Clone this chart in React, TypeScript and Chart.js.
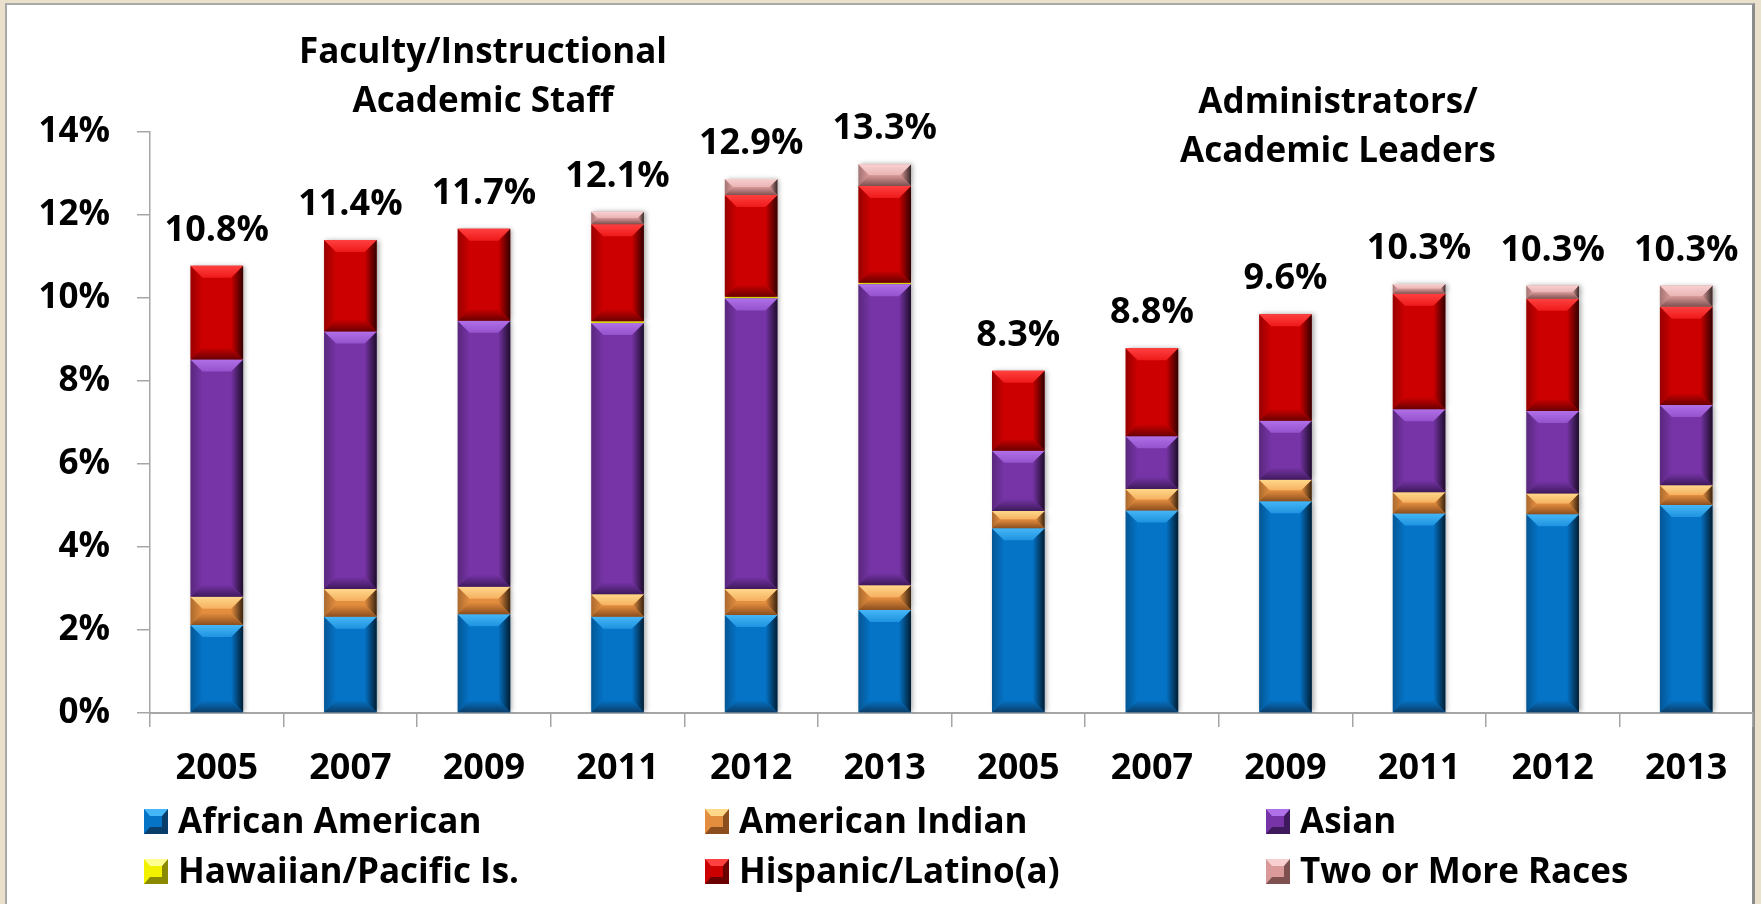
import React, { useEffect, useRef } from "react";
import { Chart, registerables } from "chart.js";

Chart.register(...registerables);

// ---------- data ----------
const categories = ["2005", "2007", "2009", "2011", "2012", "2013", "2005", "2007", "2009", "2011", "2012", "2013"];
const africanAmerican = [2.12, 2.32, 2.38, 2.32, 2.36, 2.48, 4.45, 4.88, 5.1, 4.81, 4.79, 5.01];
const americanIndian = [0.68, 0.67, 0.66, 0.54, 0.63, 0.6, 0.42, 0.52, 0.52, 0.51, 0.5, 0.48];
const asian = [5.72, 6.2, 6.41, 6.54, 7.0, 7.25, 1.45, 1.27, 1.42, 2.0, 1.99, 1.93];
const hawaiian = [0, 0, 0, 0.04, 0.04, 0.04, 0, 0, 0, 0, 0, 0];
const hispanic = [2.26, 2.21, 2.22, 2.34, 2.45, 2.33, 1.93, 2.12, 2.57, 2.78, 2.7, 2.37];
const twoOrMore = [0, 0, 0, 0.3, 0.39, 0.52, 0, 0, 0, 0.24, 0.32, 0.51];
const totalLabels = ["10.8%", "11.4%", "11.7%", "12.1%", "12.9%", "13.3%", "8.3%", "8.8%", "9.6%", "10.3%", "10.3%", "10.3%"];
const seriesNames = ["African American", "American Indian", "Asian", "Hawaiian/Pacific Is.", "Hispanic/Latino(a)", "Two or More Races"];
const yTickLabels = ["0%", "2%", "4%", "6%", "8%", "10%", "12%", "14%"];
const groupTitles = [["Faculty/Instructional", "Academic Staff"], ["Administrators/", "Academic Leaders"]];

// ---------- styles ----------
const styles = [
  { face: "#0573C6", light: "#45B6F6", mid: "#1E93E0", dark: "#0A3E6A" },
  { face: "#E38D3E", light: "#FFD88A", mid: "#F5B060", dark: "#8C4E1E" },
  { face: "#7634A6", light: "#B070E8", mid: "#9552CC", dark: "#3E1A5C" },
  { face: "#F2F200", light: "#FFFF90", mid: "#FFFF40", dark: "#8A8A00" },
  { face: "#CC0000", light: "#FF4040", mid: "#EE1A1A", dark: "#6A0000" },
  { face: "#D99A99", light: "#F8D0D0", mid: "#EAB4B4", dark: "#7E5050" },
];
const FONT = "'Open Sans', 'DejaVu Sans', sans-serif";

const seriesValues = [africanAmerican, americanIndian, asian, hawaiian, hispanic, twoOrMore];

const bevelPlugin = {
  id: "bevel",
  beforeDatasetsDraw(chart: any) {
    const ctx = chart.ctx;
    ctx.save();
    ctx.shadowColor = "rgba(0,0,0,0.35)";
    ctx.shadowBlur = 5;
    ctx.shadowOffsetX = 2;
    ctx.shadowOffsetY = 0;
  },
  afterDatasetsDraw(chart: any) {
    const ctx = chart.ctx;
    ctx.restore();
    chart.data.datasets.forEach((_ds: any, di: number) => {
      const meta = chart.getDatasetMeta(di);
      const st = styles[di];
      meta.data.forEach((el: any) => {
        const { x, y, base, width } = el.getProps(["x", "y", "base", "width"], true);
        const x0 = x - width / 2;
        const x1 = x + width / 2;
        const yT = Math.min(y, base);
        const yB = Math.max(y, base);
        const h = yB - yT;
        if (h < 3) return;
        const b = Math.min(12, h / 2, width / 2);
        ctx.save();
        // left side
        ctx.beginPath();
        ctx.moveTo(x0, yT);
        ctx.lineTo(x0 + b, yT + b);
        ctx.lineTo(x0 + b, yB - b);
        ctx.lineTo(x0, yB);
        ctx.closePath();
        let g = ctx.createLinearGradient(x0, 0, x0 + b, 0);
        g.addColorStop(0, "rgba(0,0,0,0.25)");
        g.addColorStop(1, "rgba(0,0,0,0)");
        ctx.fillStyle = g;
        ctx.fill();
        // right side
        ctx.beginPath();
        ctx.moveTo(x1, yT);
        ctx.lineTo(x1 - b, yT + b);
        ctx.lineTo(x1 - b, yB - b);
        ctx.lineTo(x1, yB);
        ctx.closePath();
        g = ctx.createLinearGradient(x1 - b, 0, x1, 0);
        g.addColorStop(0, "rgba(0,0,0,0)");
        g.addColorStop(1, "rgba(0,0,0,0.75)");
        ctx.fillStyle = g;
        ctx.fill();
        // top bevel
        ctx.beginPath();
        ctx.moveTo(x0, yT);
        ctx.lineTo(x1, yT);
        ctx.lineTo(x1 - b, yT + b);
        ctx.lineTo(x0 + b, yT + b);
        ctx.closePath();
        g = ctx.createLinearGradient(0, yT, 0, yT + b);
        g.addColorStop(0, st.light);
        g.addColorStop(1, st.mid);
        ctx.fillStyle = g;
        ctx.fill();
        // bottom bevel
        ctx.beginPath();
        ctx.moveTo(x0, yB);
        ctx.lineTo(x1, yB);
        ctx.lineTo(x1 - b, yB - b);
        ctx.lineTo(x0 + b, yB - b);
        ctx.closePath();
        g = ctx.createLinearGradient(0, yB - b, 0, yB);
        g.addColorStop(0, st.face);
        g.addColorStop(1, st.dark);
        ctx.fillStyle = g;
        ctx.fill();
        ctx.restore();
      });
    });
  },
};

const totalsPlugin = {
  id: "totals",
  afterDatasetsDraw(chart: any) {
    const ctx = chart.ctx;
    const last = chart.getDatasetMeta(chart.data.datasets.length - 1);
    ctx.save();
    ctx.font = `bold 36px ${FONT}`;
    ctx.fillStyle = "#000";
    ctx.textAlign = "center";
    ctx.textBaseline = "alphabetic";
    last.data.forEach((el: any, i: number) => {
      const { x, y } = el.getProps(["x", "y"], true);
      ctx.fillText(totalLabels[i], x, y - 25);
    });
    ctx.restore();
  },
};

export default function App() {
  const ref = useRef<HTMLCanvasElement>(null);

  useEffect(() => {
    const chart = new Chart(ref.current as HTMLCanvasElement, {
      type: "bar",
      data: {
        labels: categories,
        datasets: seriesValues.map((vals, i) => ({
          label: seriesNames[i],
          data: vals,
          backgroundColor: styles[i].face,
          borderWidth: 0,
          categoryPercentage: 1,
          barPercentage: 0.394,
        })),
      },
      options: {
        responsive: false,
        animation: false,
        devicePixelRatio: 1,
        layout: { padding: { top: 132, right: 8, left: 0, bottom: 0 } },
        plugins: {
          legend: { display: false },
          tooltip: { enabled: false },
        },
        scales: {
          x: {
            stacked: true,
            grid: { offset: true, drawOnChartArea: false, drawTicks: true, tickLength: 14, color: "#A6A6A6", lineWidth: 1.5 },
            border: { display: true, color: "#A6A6A6", width: 2 },
            ticks: { color: "#000", padding: 20, font: { family: FONT, size: 36, weight: "bold" } },
            afterFit: (s: any) => {
              s.height = 191;
            },
          },
          y: {
            stacked: true,
            min: 0,
            max: 14,
            grid: { drawOnChartArea: false, drawTicks: true, tickLength: 13, color: "#A6A6A6", lineWidth: 1.5 },
            border: { display: true, color: "#A6A6A6", width: 1.5 },
            ticks: {
              stepSize: 2,
              color: "#000",
              padding: 27,
              font: { family: FONT, size: 35, weight: "bold" },
              callback: (_v: any, idx: number) => yTickLabels[idx],
            },
            afterFit: (s: any) => {
              s.width = 150;
            },
          },
        },
      } as any,
      plugins: [bevelPlugin, totalsPlugin],
    });
    return () => chart.destroy();
  }, []);

  const textStyle: React.CSSProperties = {
    position: "absolute",
    fontFamily: FONT,
    fontWeight: 700,
    fontSize: 35,
    lineHeight: "35px",
    color: "#000",
    whiteSpace: "nowrap",
  };
  const titleCenters = [483, 1338];
  const titleTops = [
    [32, 81],
    [82, 131],
  ];
  const legendCols = [144, 705, 1266];
  const legendRows = [809, 859];

  return (
    <div style={{ position: "fixed", left: 0, top: 0, width: 1761, height: 904, background: "#E9E1CC", overflow: "hidden" }}>
      <div
        style={{
          position: "absolute",
          left: 5,
          top: 3,
          width: 1750,
          height: 1000,
          background: "#FFFFFF",
          borderLeft: "2px solid #A9A9A9",
          borderTop: "2px solid #A9A9A9",
          borderRight: "3px solid #8C8C8C",
          boxSizing: "border-box",
        }}
      />
      <canvas ref={ref} width={1761} height={904} style={{ position: "absolute", left: 0, top: 0, width: 1761, height: 904 }} />
      {groupTitles.map((lines, gi) =>
        lines.map((line, li) => (
          <div
            key={`t${gi}${li}`}
            style={{ ...textStyle, left: titleCenters[gi] - 400, width: 800, textAlign: "center", top: titleTops[gi][li] }}
          >
            {line}
          </div>
        ))
      )}
      {seriesNames.map((name, i) => {
        const col = i % 3;
        const row = Math.floor(i / 3);
        const st = styles[i];
        return (
          <React.Fragment key={name}>
            <div
              style={{
                position: "absolute",
                left: legendCols[col],
                top: legendRows[row],
                width: 24,
                height: 25,
                boxSizing: "border-box",
                background: st.face,
                borderStyle: "solid",
                borderWidth: "7px 6px 7px 6px",
                borderTopColor: st.light,
                borderBottomColor: st.dark,
                borderLeftColor: st.face,
                borderRightColor: st.dark,
              }}
            />
            <div style={{ ...textStyle, left: legendCols[col] + 34, top: legendRows[row] - 7 }}>{name}</div>
          </React.Fragment>
        );
      })}
    </div>
  );
}
